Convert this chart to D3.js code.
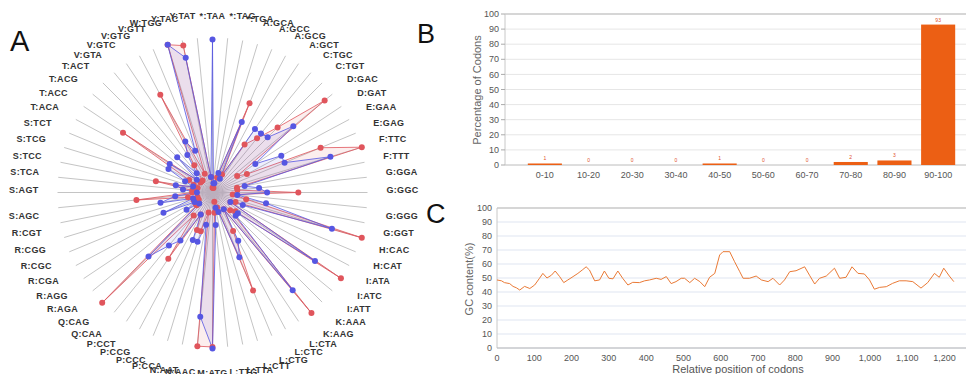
<!DOCTYPE html>
<html><head><meta charset="utf-8">
<script src="https://cdn.jsdelivr.net/npm/d3@7"></script>
<style>body{margin:0;background:#fff;} svg{display:block;font-family:"Liberation Sans",Arial,sans-serif;}</style>
</head><body>
<svg id="chart" width="968" height="374"></svg>
<script>
// ---------- Panel A data ----------
const codons = ["*:TAA","*:TAG","*:TGA","A:GCA","A:GCC","A:GCG","A:GCT","C:TGC","C:TGT","D:GAC","D:GAT","E:GAA","E:GAG","F:TTC","F:TTT","G:GGA","G:GGC","G:GGG","G:GGT","H:CAC","H:CAT","I:ATA","I:ATC","I:ATT","K:AAA","K:AAG","L:CTA","L:CTC","L:CTG","L:CTT","L:TTA","L:TTG","M:ATG","N:AAC","N:AAT","P:CCA","P:CCC","P:CCG","P:CCT","Q:CAA","Q:CAG","R:AGA","R:AGG","R:CGA","R:CGC","R:CGG","R:CGT","S:AGC","S:AGT","S:TCA","S:TCC","S:TCG","S:TCT","T:ACA","T:ACC","T:ACG","T:ACT","V:GTA","V:GTC","V:GTG","V:GTT","W:TGG","Y:TAC","Y:TAT"];
const seriesRed = [0.03,0.03,0.03,0.10,0.62,0.13,0.37,0.45,0.59,0.93,0.19,0.25,0.75,1.00,0.16,0.16,0.55,0.13,0.22,1.00,0.16,0.13,0.99,0.19,0.16,1.00,0.13,0.28,0.68,0.10,0.06,0.13,0.99,0.99,0.13,0.26,0.26,0.16,0.51,0.19,1.00,0.13,0.13,0.10,0.13,0.10,0.16,0.49,0.13,0.13,0.37,0.10,0.13,0.17,0.69,0.10,0.10,0.10,0.21,0.71,0.13,0.99,0.96,0.10];
const seriesBlue = [0.98,0.06,0.06,0.13,0.49,0.10,0.49,0.49,0.50,0.67,0.33,0.50,0.50,0.79,0.21,0.30,0.35,0.16,0.35,0.80,0.21,0.13,0.79,0.21,0.21,0.81,0.13,0.35,0.45,0.13,0.10,0.21,1.00,0.80,0.21,0.33,0.33,0.16,0.37,0.44,0.58,0.11,0.20,0.13,0.34,0.13,0.34,0.24,0.10,0.19,0.24,0.13,0.19,0.32,0.33,0.13,0.32,0.16,0.29,0.37,0.29,0.99,0.88,0.10];

// ---------- Panel B data ----------
const binLabels = ["0-10","10-20","20-30","30-40","40-50","50-60","60-70","70-80","80-90","90-100"];
const binValues = [1,0,0,0,1,0,0,2,3,93];
const percentTicks = [0,10,20,30,40,50,60,70,80,90,100];

// ---------- Panel C data ----------
const gcPositions = [0,12,20,34,43,52,61,74,88,101,114,123,134,146,156,168,179,190,204,217,230,239,248,262,275,288,300,311,324,337,351,364,382,396,409,427,440,454,467,480,494,503,517,530,544,557,570,584,597,606,624,637,651,660,677,695,709,727,740,758,771,785,802,825,838,852,865,883,905,919,936,952,968,985,999,1012,1026,1044,1061,1079,1097,1115,1137,1155,1173,1186,1198,1213,1225];
const gcValues = [48.6,48,46.7,46,44,43,41.4,44,42.5,45,49.8,53.3,50,52,55,51,46.7,48.6,51,53.3,56,58,55.7,48,48.6,55,49.8,49.4,55,49.8,45,46.9,46.7,48,48.6,49.8,49,51,46,47.4,49.8,49.8,46.7,49.8,47.4,43.8,50.5,53.3,66.4,68.8,68.8,61.7,54.5,49.8,49.8,51.4,48.6,47.4,49.8,45,48.6,54.5,55.2,58,52,45.7,49.8,51.4,57,49.8,50.5,58,53.3,52.9,48.6,42,43.3,43.8,46.2,48,48,47.4,42.8,46.7,53.3,50.5,57,51.4,47.4];
const positionTicks = [0,100,200,300,400,500,600,700,800,900,1000,1100,1200];

const svg = d3.select("#chart");

// ================= Panel A: radar =================
const cx = 212.5, cy = 192.5, axisR = 155, labelR = 174;
const n = codons.length;
const angle = d3.scaleLinear().domain([0, n]).range([0, 2 * Math.PI]);
const rScale = d3.scaleLinear().domain([0, 1]).range([0, 156]);
const gA = svg.append("g").attr("transform", `translate(${cx},${cy})`);

gA.selectAll("line.axis").data(codons).join("line")
  .attr("class", "axis")
  .attr("x1", 0).attr("y1", 0)
  .attr("x2", (d, i) => axisR * Math.sin(angle(i)))
  .attr("y2", (d, i) => -axisR * Math.cos(angle(i)))
  .attr("stroke", "#c4c4c4").attr("stroke-width", 1);

gA.selectAll("text.lbl").data(codons).join("text")
  .attr("class", "lbl")
  .attr("x", (d, i) => labelR * Math.sin(angle(i)))
  .attr("y", (d, i) => -labelR * Math.cos(angle(i)))
  .attr("dy", (d, i) => Math.cos(angle(i)) > -1e-6 ? 0 : 9.5)
  .attr("text-anchor", (d, i) => {
    const s = Math.sin(angle(i));
    return Math.abs(s) < 0.01 ? "middle" : (s > 0 ? "start" : "end");
  })
  .attr("font-size", 9).attr("font-weight", "bold").attr("fill", "#333")
  .attr("letter-spacing", 0.3)
  .text(d => d);

const radial = d3.lineRadial()
  .angle((d, i) => angle(i))
  .radius(d => rScale(d))
  .curve(d3.curveLinearClosed);

const series = [
  {values: seriesRed, color: "#e0555c"},
  {values: seriesBlue, color: "#5656e2"}
];
series.forEach(s => {
  gA.append("path").datum(s.values)
    .attr("d", radial)
    .attr("fill", s.color).attr("fill-opacity", 0.1)
    .attr("stroke", s.color).attr("stroke-width", 1).attr("stroke-opacity", 0.8);
});
series.forEach(s => {
  gA.append("g").selectAll("circle").data(s.values).join("circle")
    .attr("cx", (d, i) => rScale(d) * Math.sin(angle(i)))
    .attr("cy", (d, i) => -rScale(d) * Math.cos(angle(i)))
    .attr("r", 3).attr("fill", s.color);
});

svg.append("text").attr("x", 10).attr("y", 51).attr("font-size", 29).attr("fill", "#111").text("A");

// ================= Panel B: bars =================
const bx = d3.scaleBand().domain(binLabels).range([523, 960]).paddingInner(0.22).paddingOuter(0.11);
const by = d3.scaleLinear().domain([0, 100]).range([165, 14]);
const gB = svg.append("g");
gB.selectAll("line.grid").data(percentTicks).join("line")
  .attr("x1", 505).attr("x2", 966)
  .attr("y1", d => by(d)).attr("y2", d => by(d))
  .attr("stroke", d => d === 100 ? "#c8c8c8" : "#e6e6e6").attr("stroke-width", d => d === 100 ? 1.5 : 1);
gB.append("line").attr("x1", 505).attr("x2", 505).attr("y1", by(100)).attr("y2", by(0)).attr("stroke", "#c8c8c8");
gB.append("line").attr("x1", 505).attr("x2", 966).attr("y1", by(0)).attr("y2", by(0)).attr("stroke", "#c8c8c8");
gB.selectAll("line.tk").data(percentTicks).join("line")
  .attr("x1", 501).attr("x2", 505).attr("y1", d => by(d)).attr("y2", d => by(d)).attr("stroke", "#aaa");
gB.selectAll("text.yt").data(percentTicks).join("text")
  .attr("x", 499).attr("y", d => by(d)).attr("dy", "0.35em")
  .attr("text-anchor", "end").attr("font-size", 9).attr("fill", "#555").text(d => d);
gB.selectAll("rect").data(binValues).join("rect")
  .attr("x", (d, i) => bx(binLabels[i]))
  .attr("width", bx.bandwidth())
  .attr("y", d => by(d))
  .attr("height", d => by(0) - by(d))
  .attr("fill", "#ec5f14");
gB.selectAll("text.vl").data(binValues).join("text")
  .attr("x", (d, i) => bx(binLabels[i]) + bx.bandwidth() / 2)
  .attr("y", d => by(d) - 3)
  .attr("text-anchor", "middle").attr("font-size", 5).attr("fill", "#e0502a").text(d => d);
gB.selectAll("text.xl").data(binLabels).join("text")
  .attr("x", d => bx(d) + bx.bandwidth() / 2).attr("y", 178)
  .attr("text-anchor", "middle").attr("font-size", 9).attr("fill", "#555").text(d => d);
gB.append("text").attr("transform", "translate(481,90) rotate(-90)")
  .attr("text-anchor", "middle").attr("font-size", 11).attr("fill", "#666").text("Percentage of Codons");
svg.append("text").attr("x", 417).attr("y", 43).attr("font-size", 27).attr("fill", "#111").text("B");

// ================= Panel C: line =================
const lx = d3.scaleLinear().domain([0, 1255]).range([497, 965]);
const ly = d3.scaleLinear().domain([0, 100]).range([348, 208]);
const gC = svg.append("g");
gC.selectAll("line.grid").data(percentTicks).join("line")
  .attr("x1", 497).attr("x2", 966)
  .attr("y1", d => ly(d)).attr("y2", d => ly(d))
  .attr("stroke", d => d === 100 ? "#c8c8c8" : "#dfe5f1").attr("stroke-width", d => d === 100 ? 1.5 : 1);
gC.append("line").attr("x1", 497).attr("x2", 497).attr("y1", ly(100)).attr("y2", ly(0)).attr("stroke", "#c8c8c8");
gC.append("line").attr("x1", 497).attr("x2", 966).attr("y1", ly(0)).attr("y2", ly(0)).attr("stroke", "#b8b8b8");
gC.selectAll("text.yt").data(percentTicks).join("text")
  .attr("x", 492).attr("y", d => ly(d)).attr("dy", "0.35em")
  .attr("text-anchor", "end").attr("font-size", 9).attr("fill", "#555").text(d => d);
gC.selectAll("text.xt").data(positionTicks).join("text")
  .attr("x", d => lx(d)).attr("y", 361)
  .attr("text-anchor", "middle").attr("font-size", 9).attr("fill", "#555").text(d => d3.format(",")(d));
const gcLine = d3.line().x((d, i) => lx(gcPositions[i])).y(d => ly(d));
gC.append("path").datum(gcValues).attr("d", gcLine)
  .attr("fill", "none").attr("stroke", "#ea7a36").attr("stroke-width", 1);
gC.append("text").attr("transform", "translate(473,279) rotate(-90)")
  .attr("text-anchor", "middle").attr("font-size", 11).attr("fill", "#666").text("GC content(%)");
gC.append("text").attr("x", 738).attr("y", 373)
  .attr("text-anchor", "middle").attr("font-size", 11).attr("fill", "#555").text("Relative position of codons");
svg.append("text").attr("x", 426).attr("y", 223).attr("font-size", 27).attr("fill", "#111").text("C");
</script>
</body></html>
